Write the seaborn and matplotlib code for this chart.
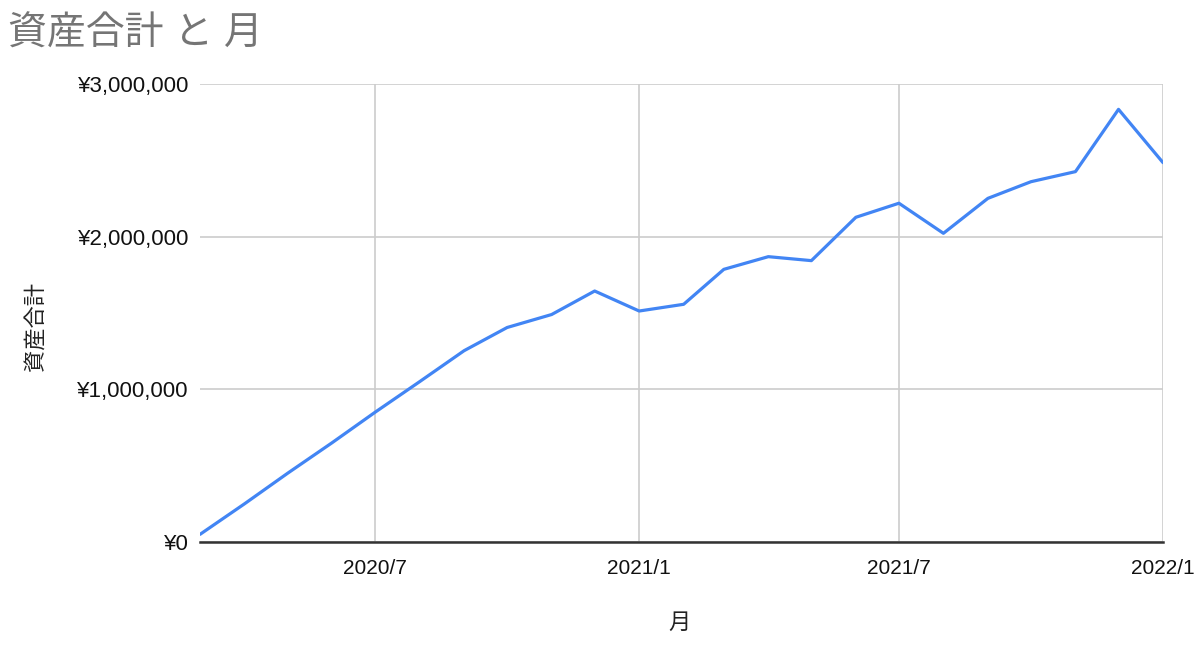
import pandas as pd
import matplotlib
matplotlib.use("Agg")
import matplotlib.pyplot as plt
import matplotlib.dates as mdates
from matplotlib.ticker import FuncFormatter
import seaborn as sns

# monthly totals
months = ["2020-03", "2020-04", "2020-05", "2020-06", "2020-07", "2020-08",
          "2020-09", "2020-10", "2020-11", "2020-12", "2021-01", "2021-02",
          "2021-03", "2021-04", "2021-05", "2021-06", "2021-07", "2021-08",
          "2021-09", "2021-10", "2021-11", "2021-12", "2022-01"]
totals = [50000, 250000, 450000, 650000, 850000, 1050000,
          1253000, 1405000, 1490000, 1644000, 1513000, 1557000,
          1786000, 1869000, 1843000, 2127000, 2219000, 2022000,
          2251000, 2360000, 2426000, 2834000, 2485000]
x_ticks = ["2020-07", "2021-01", "2021-07", "2022-01"]
y_ticks = [0, 1000000, 2000000, 3000000]

df = pd.DataFrame({"月": pd.to_datetime(months), "資産合計": totals})

sns.set_theme(style="white")
plt.rcParams['font.family'] = ['Liberation Sans', 'Noto Sans CJK JP', 'DejaVu Sans']

fig = plt.figure(figsize=(12, 6.61), dpi=100)
ax = fig.add_axes([200/1200, 1 - 542/661, 963/1200, 458/661])

sns.lineplot(data=df, x="月", y="資産合計", ax=ax, color="#4285F4", linewidth=2.3)

ax.set_xlim(pd.Timestamp(months[0]), pd.Timestamp(months[-1]))
ax.set_ylim(0, 3000000)
ax.set_xticks(pd.to_datetime(x_ticks))
ax.xaxis.set_major_formatter(mdates.DateFormatter("%Y/%-m"))
ax.set_yticks(y_ticks)
ax.yaxis.set_major_formatter(FuncFormatter(lambda v, p: "¥{:,.0f}".format(v)))

ax.grid(True, color="#cccccc", linewidth=1.2)
ax.set_axisbelow(True)
for s in ["left", "right", "top"]:
    ax.spines[s].set_visible(False)
ax.spines["bottom"].set_color("#333333")
ax.spines["bottom"].set_linewidth(1.8)
ax.tick_params(axis="both", length=0, colors="#111111")
ax.tick_params(axis="y", labelsize=16, pad=8)
ax.tick_params(axis="x", labelsize=15, pad=12)

ax.set_xlabel("月", fontsize=16, color="#222222")
ax.set_ylabel("資産合計", fontsize=16, color="#222222")
ax.xaxis.set_label_coords(0.498, -0.155)
ax.yaxis.set_label_coords(-0.158, 0.47)

fig.text(8/1200, 1 - 35/661, "資産合計 と 月", fontsize=28, color="#757575",
         va="center", ha="left")

fig.savefig("out.png", dpi=100)
